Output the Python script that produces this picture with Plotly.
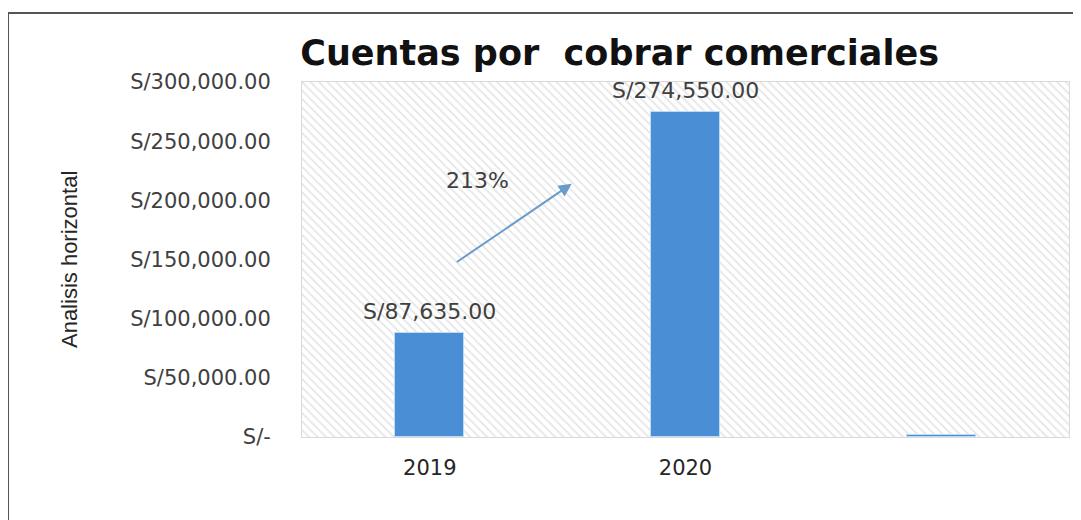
import plotly.graph_objects as go

# ---- data ----
categories = ["2019", "2020", ""]
values = [87635, 274550, 2000]
labels_shown = [True, True, False]
y_tickvals = [0, 50000, 100000, 150000, 200000, 250000, 300000]
y_ticktext = ["S/-", "S/50,000.00", "S/100,000.00", "S/150,000.00",
              "S/200,000.00", "S/250,000.00", "S/300,000.00"]
growth_label = "213%"
title_text = "Cuentas por  cobrar comerciales"
y_title = "Analisis horizontal"

YMAX = y_tickvals[-1]
BAR_COLOR = "#4a8fd6"
FONT = "DejaVu Sans"
pos = list(range(len(categories)))
bounds = [p - 0.5 for p in pos] + [pos[-1] + 0.5]

fig = go.Figure()

# hatched plot background (one full-width bar per category)
fig.add_trace(go.Bar(
    x=pos, y=[YMAX] * len(pos), width=1,
    marker=dict(color="white", line=dict(width=0),
                pattern=dict(shape="\\", fgcolor="#cccccc", bgcolor="white",
                             size=6, solidity=0.3)),
    hoverinfo="skip", showlegend=False,
))

# data bars
fig.add_trace(go.Bar(
    x=pos, y=values, width=0.27,
    marker=dict(color=BAR_COLOR, line=dict(width=1, color="#bcdcf5")),
    showlegend=False,
))

# value labels
for p, v, show in zip(pos, values, labels_shown):
    if show:
        fig.add_annotation(x=p, y=v, text=f"S/{v:,.2f}", showarrow=False,
                           yanchor="bottom", yshift=7,
                           font=dict(family=FONT, size=22, color="#404040"))

# growth arrow from 2019 toward 2020
fig.add_annotation(x=0.555, y=214000, ax=0.1, ay=147000,
                   xref="x", yref="y", axref="x", ayref="y",
                   text="", showarrow=True, arrowhead=2, arrowsize=1.3,
                   arrowwidth=2, arrowcolor="#6a9bcc")
fig.add_annotation(x=0.185, y=217000, xref="x", yref="y", text=growth_label,
                   showarrow=False,
                   font=dict(family=FONT, size=22, color="#404040"))

# y-axis title
fig.add_annotation(x=-0.322, y=0.5, xref="paper", yref="paper",
                   text=y_title, textangle=-90, showarrow=False,
                   font=dict(family="Liberation Sans Narrow, Arial Narrow, Liberation Sans",
                             size=22, color="#262626"))

# outer frame (right and bottom run off the picture)
fig.add_shape(type="rect", xref="paper", yref="paper",
              x0=-0.3833, x1=1.03, y0=-0.26, y1=1.1944,
              line=dict(color="#555555", width=2), layer="above")

fig.update_layout(
    width=1073, height=512,
    margin=dict(l=294, r=12, t=74, b=83),
    paper_bgcolor="white", plot_bgcolor="white",
    barmode="overlay", bargap=0,
    title=dict(text=f"<b>{title_text}</b>", x=0.570, xanchor="center",
               y=0.912, yanchor="middle",
               font=dict(family=FONT, size=35, color="#111111")),
    xaxis=dict(range=[bounds[0], bounds[-1]], tickvals=pos, ticktext=categories,
               showgrid=False, zeroline=False, ticks="",
               minor=dict(tickvals=bounds, showgrid=True, gridcolor="#d9d9d9",
                          gridwidth=1, ticks=""),
               showline=True, linecolor="#d9d9d9", mirror=True,
               ticklabelstandoff=12,
               tickfont=dict(family=FONT, size=21, color="#262626")),
    yaxis=dict(range=[0, YMAX], tickvals=y_tickvals, ticktext=y_ticktext,
               showgrid=True, gridcolor="#d9d9d9", gridwidth=1,
               showline=True, linecolor="#d9d9d9", mirror=True,
               zeroline=False, ticks="", ticklabelstandoff=26,
               tickfont=dict(family=FONT, size=21, color="#404040")),
)

fig.write_html("out.html")
